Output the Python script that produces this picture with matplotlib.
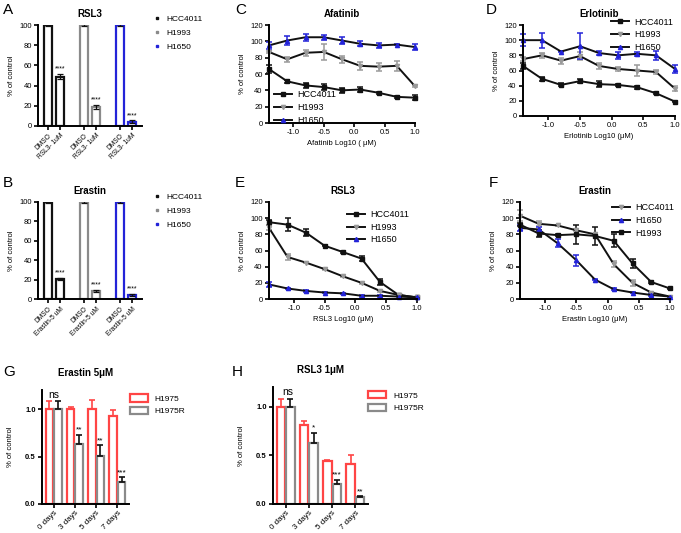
import matplotlib
matplotlib.use("Agg")
import matplotlib.pyplot as plt
from matplotlib.lines import Line2D
import numpy as np

plt.rcParams['font.family'] = ['Liberation Sans', 'DejaVu Sans']

# ---------------- data ----------------
cell_lines_ab = ["HCC4011", "H1993", "H1650"]
rsl3_ctrl = [100, 100, 100]
rsl3_ctrl_err = [0.8, 0.8, 0.8]
rsl3_treat = [49, 19, 4]
rsl3_treat_err = [2.5, 2.0, 1.5]
erastin_ctrl = [100, 100, 100]
erastin_ctrl_err = [0.8, 0.8, 0.8]
erastin_treat = [21, 8, 4]
erastin_treat_err = [1.0, 1.0, 1.0]
a_ticklabels = ["DMSO", "RSL3- 1uM"] * 3
b_ticklabels = ["DMSO", "Erastin-5 uM"] * 3

log_dose = [-1.4, -1.1, -0.8, -0.5, -0.2, 0.1, 0.4, 0.7, 1.0]

afa_hcc4011 = [66, 51, 46, 44, 40, 41, 37, 32, 31]
afa_hcc4011_err = [5, 2, 3, 4, 3, 3, 1, 1, 3]
afa_h1993 = [87, 78, 86, 87, 78, 70, 69, 70, 45]
afa_h1993_err = [1, 3, 4, 10, 4, 5, 5, 6, 1]
afa_h1650 = [95, 101, 105, 105, 101, 97, 95, 96, 93]
afa_h1650_err = [4, 5, 4, 3, 4, 3, 3, 1, 4]

erl_hcc4011 = [66, 49, 41, 46, 42, 41, 38, 30, 19]
erl_hcc4011_err = [4, 3, 2, 3, 4, 1, 2, 1, 1]
erl_h1993 = [75, 80, 73, 79, 66, 62, 60, 58, 36]
erl_h1993_err = [3, 3, 4, 5, 4, 3, 7, 3, 3]
erl_h1650 = [100, 100, 85, 92, 83, 80, 82, 80, 62]
erl_h1650_err = [8, 10, 1, 17, 3, 5, 3, 6, 5]

rsl_hcc4011 = [95, 92, 82, 66, 58, 50, 21, 5, 2]
rsl_hcc4011_err = [3, 8, 4, 1, 1, 3, 4, 1, 1]
rsl_h1993 = [88, 52, 45, 37, 28, 20, 10, 5, 2]
rsl_h1993_err = [3, 4, 1, 1, 1, 1, 1, 1, 1]
rsl_h1650 = [18, 13, 10, 8, 7, 4, 4, 3, 2]
rsl_h1650_err = [3, 1, 1, 1, 1, 1, 1, 1, 1]

era_hcc4011 = [103, 93, 91, 85, 80, 43, 20, 8, 3]
era_hcc4011_err = [7, 3, 1, 1, 1, 4, 4, 1, 1]
era_h1650 = [88, 86, 69, 48, 24, 12, 8, 5, 3]
era_h1650_err = [4, 3, 5, 7, 1, 1, 1, 1, 1]
era_h1993 = [92, 81, 79, 80, 78, 72, 44, 21, 13]
era_h1993_err = [2, 4, 1, 12, 11, 8, 6, 1, 1]

days = ["0 days", "3 days", "5 days", "7 days"]
g_h1975 = [1.0, 1.0, 1.0, 0.93]
g_h1975_err = [0.08, 0.02, 0.10, 0.06]
g_h1975r = [1.0, 0.63, 0.51, 0.23]
g_h1975r_err = [0.08, 0.10, 0.11, 0.05]
g_sig = ["ns", "**", "**", "***"]

h_h1975 = [1.0, 0.81, 0.44, 0.41]
h_h1975_err = [0.08, 0.04, 0.01, 0.09]
h_h1975r = [1.0, 0.63, 0.21, 0.07]
h_h1975r_err = [0.08, 0.10, 0.04, 0.01]
h_sig = ["ns", "*", "***", "**"]

# ---------------- style ----------------
BLACK = "#111111"
GRAY = "#9a9a9a"
BLUE = "#2323d8"
RED = "#ff4545"
BARGRAY = "#8a8a8a"

W, H = 681, 533
fig = plt.figure(figsize=(W / 100, H / 100), dpi=100)


def ax_px(l, t, r, b):
    return fig.add_axes([l / W, 1 - b / H, (r - l) / W, (b - t) / H])


def style(ax, fs=5.5):
    for s in ["top", "right"]:
        ax.spines[s].set_visible(False)
    for s in ["left", "bottom"]:
        ax.spines[s].set_linewidth(1.4)
    ax.tick_params(width=1.2, length=3, labelsize=fs, pad=1.5)


def letter(x, y, s):
    fig.text(x / W, 1 - y / H, s, fontsize=11, ha="left", va="center")


# ---------------- A & B ----------------
ab_colors = [BLACK, BARGRAY, BLUE]


def bar_panel(ax, ctrl, ctrl_err, treat, treat_err, labels, title):
    style(ax)
    pos = []
    for i in range(3):
        pos += [i * 3, i * 3 + 1.0]
    for i in range(3):
        c = ab_colors[i]
        ax.bar(pos[2 * i], ctrl[i], width=0.68, facecolor="white", edgecolor=c, lw=1.6)
        ax.bar(pos[2 * i + 1], treat[i], width=0.68, facecolor="white", edgecolor=c, lw=1.6)
        ax.errorbar([pos[2 * i], pos[2 * i + 1]], [ctrl[i], treat[i]],
                    yerr=[ctrl_err[i], treat_err[i]], fmt="none", ecolor=BLACK,
                    elinewidth=0.9, capsize=2, capthick=0.9)
        ax.text(pos[2 * i + 1], treat[i] + treat_err[i] + 1.5, "****",
                ha="center", va="bottom", fontsize=5)
    ax.set_xlim(-0.85, pos[-1] + 0.85)
    ax.set_ylim(0, 100)
    ax.set_yticks([0, 20, 40, 60, 80, 100])
    ax.set_xticks(pos)
    ax.set_xticklabels(labels, rotation=45, ha="right", rotation_mode="anchor", fontsize=4.8)
    ax.set_ylabel("% of control", fontsize=5.5, labelpad=3)
    ax.set_title(title, fontsize=7, fontweight="bold", pad=6)
    handles = [Line2D([], [], ls="none", marker="s", ms=1.8, color=c) for c in ab_colors]
    ax.legend(handles, cell_lines_ab, loc="upper left", bbox_to_anchor=(1.03, 1.17),
              frameon=False, fontsize=6, handlelength=1.0, handletextpad=0.6,
              labelspacing=0.75)


axA = ax_px(38, 25, 142, 126)
bar_panel(axA, rsl3_ctrl, rsl3_ctrl_err, rsl3_treat, rsl3_treat_err, a_ticklabels, "RSL3")
axB = ax_px(38, 202, 142, 299)
bar_panel(axB, erastin_ctrl, erastin_ctrl_err, erastin_treat, erastin_treat_err, b_ticklabels, "Erastin")

# ---------------- C-F ----------------


def curve(ax, y, err, color, marker):
    ax.errorbar(log_dose, y, yerr=err, color=BLACK,
                ecolor=color, marker=marker, ms=3, mfc=color, mec=color,
                lw=1.4, elinewidth=1.1, capsize=2, capthick=1.1,
                clip_on=False)


def curve_panel(ax, series, title, xlabel, legend_kw):
    style(ax)
    handles = []
    labels = []
    for y, e, c, m, lab in series:
        curve(ax, y, e, c, m)
        handles.append(Line2D([], [], color=BLACK, lw=1.4, marker=m, ms=3, mfc=c, mec=c))
        labels.append(lab)
    ax.set_xlim(-1.4, 1.0)
    ax.set_ylim(0, 120)
    ax.set_yticks(np.arange(0, 121, 20))
    ax.set_xticks([-1.0, -0.5, 0.0, 0.5, 1.0])
    ax.set_xticklabels(["-1.0", "-0.5", "0.0", "0.5", "1.0"])
    ax.set_ylabel("% of control", fontsize=5.5, labelpad=3)
    ax.set_xlabel(xlabel, fontsize=5.5, labelpad=3)
    ax.set_title(title, fontsize=7, fontweight="bold", pad=6)
    ax.legend(handles, labels, frameon=False, fontsize=6.5, handlelength=2.0,
              handletextpad=0.6, labelspacing=0.4, **legend_kw)


axC = ax_px(269, 25, 415, 123)
curve_panel(axC, [
    (afa_hcc4011, afa_hcc4011_err, BLACK, "s", "HCC4011"),
    (afa_h1993, afa_h1993_err, GRAY, "v", "H1993"),
    (afa_h1650, afa_h1650_err, BLUE, "^", "H1650"),
], "Afatinib", "Afatinib Log10 ( μM)",
    dict(loc="lower left", bbox_to_anchor=(-0.02, -0.1)))

axD = ax_px(523, 25, 675, 116)
curve_panel(axD, [
    (erl_hcc4011, erl_hcc4011_err, BLACK, "s", "HCC4011"),
    (erl_h1993, erl_h1993_err, GRAY, "v", "H1993"),
    (erl_h1650, erl_h1650_err, BLUE, "^", "H1650"),
], "Erlotinib", "Erlotinib Log10 (μM)",
    dict(loc="upper right", bbox_to_anchor=(1.04, 1.17)))

axE = ax_px(269, 202, 417, 299)
curve_panel(axE, [
    (rsl_hcc4011, rsl_hcc4011_err, BLACK, "s", "HCC4011"),
    (rsl_h1993, rsl_h1993_err, GRAY, "v", "H1993"),
    (rsl_h1650, rsl_h1650_err, BLUE, "^", "H1650"),
], "RSL3", "RSL3 Log10 (μM)",
    dict(loc="upper right", bbox_to_anchor=(1.0, 1.0)))

axF = ax_px(520, 202, 670, 299)
curve_panel(axF, [
    (era_hcc4011, era_hcc4011_err, GRAY, "v", "HCC4011"),
    (era_h1650, era_h1650_err, BLUE, "^", "H1650"),
    (era_h1993, era_h1993_err, BLACK, "s", "H1993"),
], "Erastin", "Erastin Log10 (μM)",
    dict(loc="upper right", bbox_to_anchor=(1.08, 1.07)))

# ---------------- G & H ----------------


def days_panel(ax, red, red_err, gry, gry_err, sig, title, sig_offset):
    style(ax, fs=5.5)
    ax.tick_params(axis="x", pad=1)
    x = np.arange(len(days))
    w = 0.36
    ax.bar(x - w / 2 - 0.02, red, width=w, facecolor="white", edgecolor=RED, lw=1.6, label="H1975")
    ax.bar(x + w / 2 + 0.02, gry, width=w, facecolor="white", edgecolor=BARGRAY, lw=1.6, label="H1975R")
    ax.errorbar(x - w / 2 - 0.02, red, yerr=[np.zeros(len(red)), red_err], fmt="none",
                ecolor=RED, elinewidth=1.2, capsize=2, capthick=1.2)
    ax.errorbar(x + w / 2 + 0.02, gry, yerr=[np.zeros(len(gry)), gry_err], fmt="none",
                ecolor=BLACK, elinewidth=1.2, capsize=2, capthick=1.2)
    for i, s in enumerate(sig):
        if s == "ns":
            ax.text(x[i] + sig_offset, max(red[i], gry[i]) + 0.1, s, ha="center",
                    va="bottom", fontsize=7.5)
        else:
            ax.text(x[i] + w / 2 + 0.02, gry[i] + gry_err[i] + 0.01, s, ha="center",
                    va="bottom", fontsize=6)
    ax.set_xlim(-0.55, len(days) - 0.45)
    ax.set_ylim(0, 1.2)
    ax.set_yticks([0.0, 0.5, 1.0])
    ax.set_yticklabels(["0.0", "0.5", "1.0"], fontweight="bold")
    ax.set_xticks(x)
    ax.set_xticklabels(days, rotation=45, ha="right", rotation_mode="anchor", fontsize=5.8)
    ax.set_ylabel("% of control", fontsize=5.5, labelpad=8)
    ax.set_title(title, fontsize=7, fontweight="bold", pad=10)
    ax.legend(loc="upper left", bbox_to_anchor=(0.92, 1.03), frameon=False, fontsize=6,
              handlelength=2.2, handleheight=1.0, handletextpad=0.8, labelspacing=0.5)


axG = ax_px(42, 390, 129, 504)
days_panel(axG, g_h1975, g_h1975_err, g_h1975r, g_h1975r_err, g_sig, "Erastin 5μM", 0.0)
axH = ax_px(273, 387, 368, 504)
days_panel(axH, h_h1975, h_h1975_err, h_h1975r, h_h1975r_err, h_sig, "RSL3 1μM", 0.1)

# ---------------- panel letters ----------------
letter(3, 10, "A")
letter(3, 183, "B")
letter(235, 10, "C")
letter(486, 10, "D")
letter(235, 183, "E")
letter(489, 183, "F")
letter(3, 372, "G")
letter(232, 372, "H")

fig.savefig("out.png", dpi=100)
